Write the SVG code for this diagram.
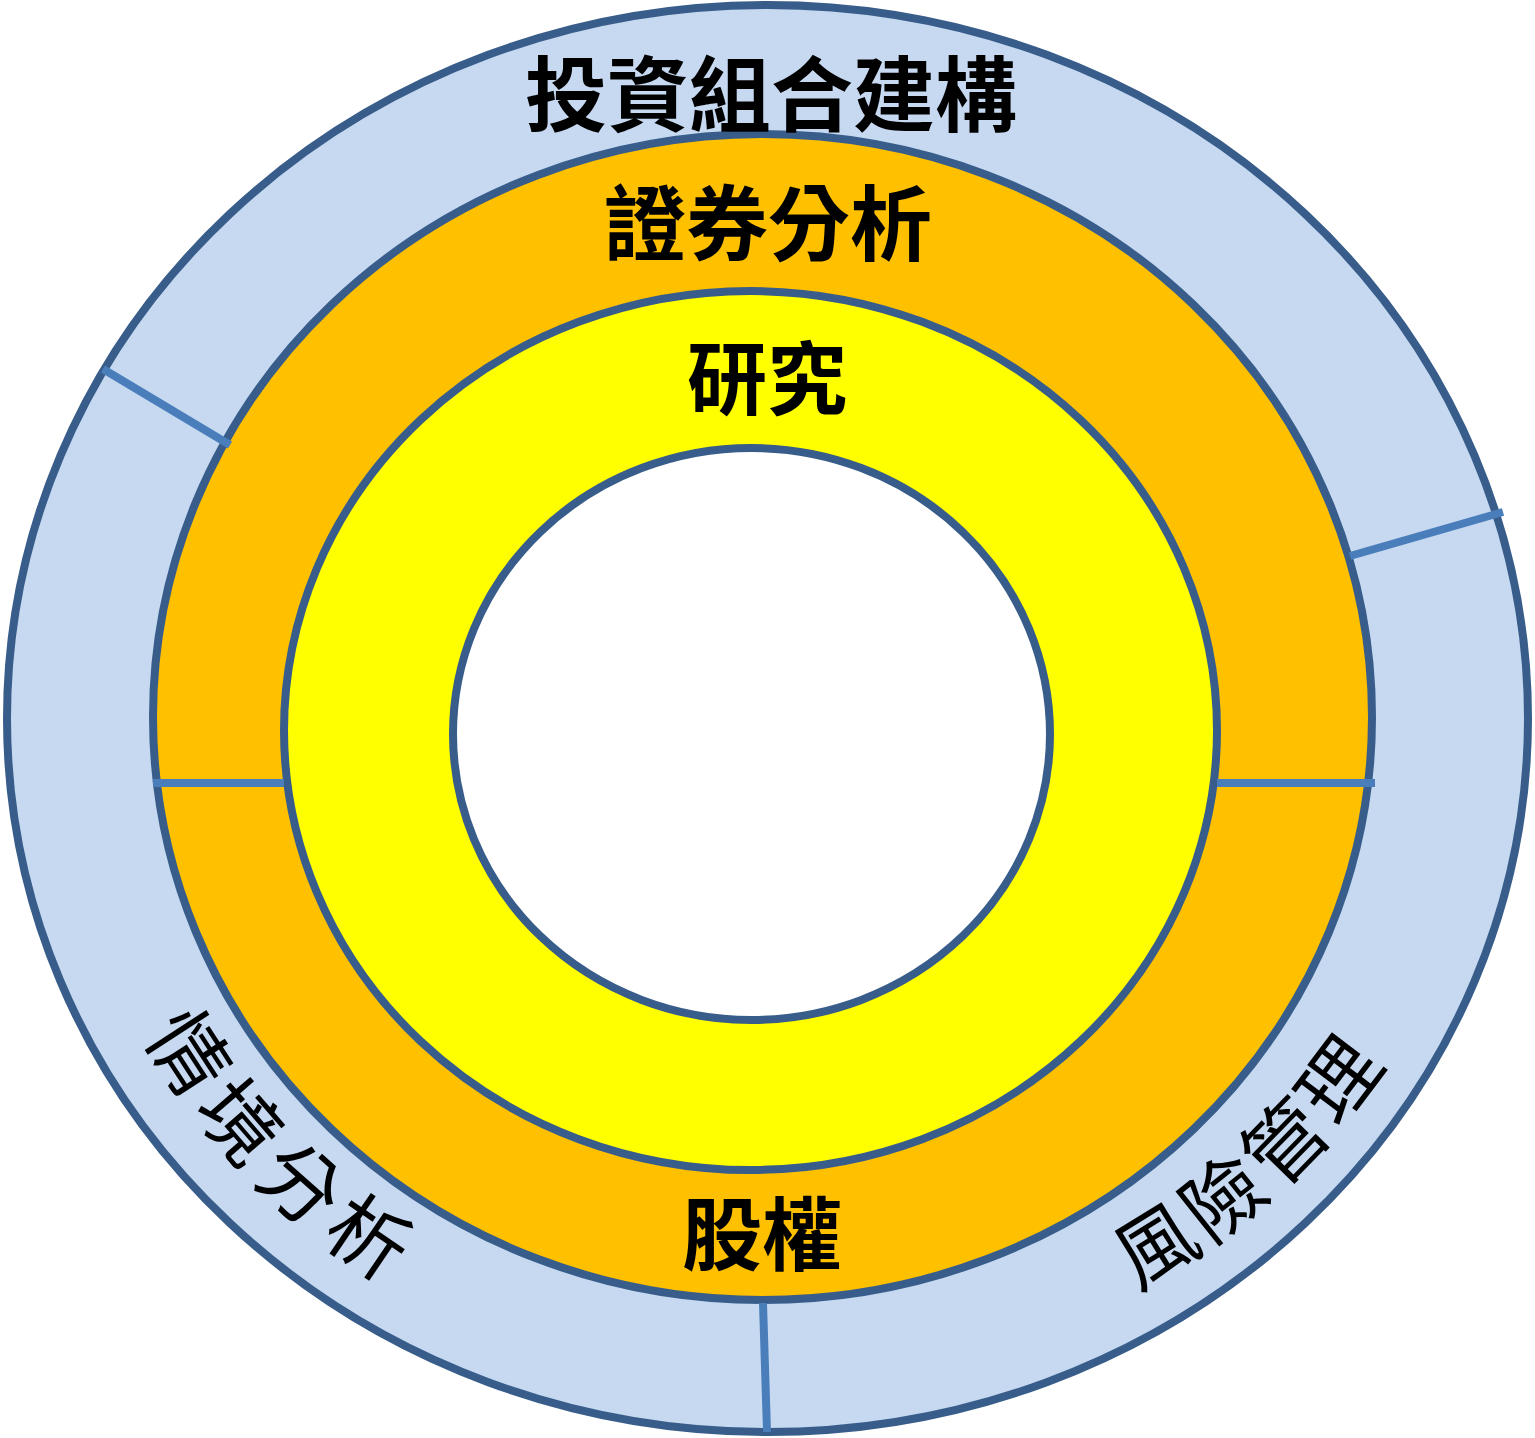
<svg xmlns="http://www.w3.org/2000/svg" width="1535" height="1438" viewBox="0 0 1535 1438">
<style>
.ring{stroke:#385D8A;stroke-width:8}
.div{stroke:#4A7EBB;stroke-width:8;fill:none}
.t{font-family:"Noto Sans CJK TC","Noto Sans CJK SC",sans-serif;fill:#000;text-anchor:middle;dominant-baseline:central}
.b{font-weight:bold}
</style>
<defs>
<path id="arcL" d="M 101.5 806.5 A 672 636 0 0 0 615.8 1337.7"/>
<path id="arcR" d="M 898.7 1336.4 A 690 630 0 0 0 1446.5 827.4"/>
</defs>
<rect width="1535" height="1438" fill="#fff"/>
<g id="outer">
<ellipse class="ring" cx="767.5" cy="718.5" rx="760.5" ry="713.5" fill="#C6D9F1"/>
</g>
<g id="middle">
<ellipse class="ring" cx="762.5" cy="717" rx="609.5" ry="583" fill="#FFC000"/>
</g>
<g id="inner">
<ellipse class="ring" cx="750.5" cy="730.5" rx="466.5" ry="439.5" fill="#FFFF00"/>
</g>
<g id="core">
<ellipse class="ring" cx="751.5" cy="734" rx="298.5" ry="286" fill="#fff"/>
</g>
<g id="connectors">
<line class="div" x1="103" y1="369" x2="230" y2="445"/>
<line class="div" x1="1503" y1="512" x2="1350" y2="556"/>
<line class="div" x1="763" y1="1303" x2="767" y2="1432"/>
<line class="div" x1="153" y1="783" x2="284" y2="783"/>
<line class="div" x1="1217" y1="783" x2="1375" y2="783"/>
</g>
<g id="labels">
<text class="t b" x="771" y="89" font-size="82">投資組合建構</text>
<text class="t b" x="768" y="218" font-size="82">證券分析</text>
<text class="t b" x="767" y="373" font-size="80">研究</text>
<text class="t b" x="762" y="1229" font-size="80">股權</text>
<text class="t" font-size="80" letter-spacing="6"><textPath href="#arcL" startOffset="50%">情境分析</textPath></text>
<text class="t" font-size="80" letter-spacing="2"><textPath href="#arcR" startOffset="50%">風險管理</textPath></text>
</g>
</svg>
